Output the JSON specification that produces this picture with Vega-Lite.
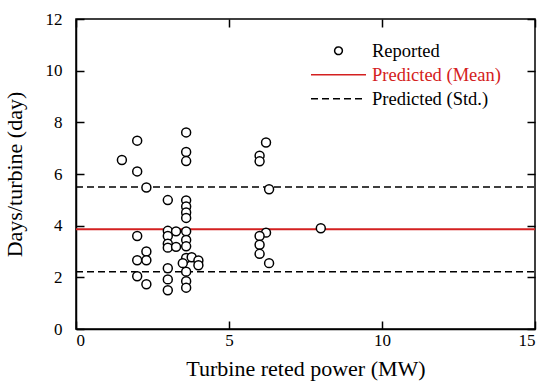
{
  "$schema": "https://vega.github.io/schema/vega-lite/v6.json",
  "autosize": {"type": "none"},
  "width": 459,
  "height": 310,
  "padding": {"left": 76, "top": 19, "right": 8, "bottom": 57},
  "background": "white",
  "config": {
    "font": "Liberation Serif",
    "view": {"stroke": "black", "strokeWidth": 1.5},
    "axis": {
      "grid": false,
      "domainColor": "black",
      "domainWidth": 1.5,
      "tickColor": "black",
      "tickWidth": 1.5,
      "labelColor": "black",
      "titleColor": "black",
      "labelFont": "Liberation Serif",
      "titleFont": "Liberation Serif",
      "labelFontSize": 17,
      "titleFontSize": 22,
      "titleFontWeight": "normal"
    }
  },
  "datasets": {
    "reported": [
      {"power": 1.5, "days": 6.54},
      {"power": 2.0, "days": 7.29},
      {"power": 2.0, "days": 6.10},
      {"power": 2.3, "days": 5.48},
      {"power": 2.0, "days": 3.60},
      {"power": 2.3, "days": 3.00},
      {"power": 2.0, "days": 2.66},
      {"power": 2.3, "days": 2.66},
      {"power": 2.0, "days": 2.04},
      {"power": 2.3, "days": 1.73},
      {"power": 3.0, "days": 4.99},
      {"power": 3.0, "days": 3.80},
      {"power": 3.0, "days": 3.60},
      {"power": 3.0, "days": 3.30},
      {"power": 3.0, "days": 3.15},
      {"power": 3.0, "days": 2.35},
      {"power": 3.0, "days": 1.92},
      {"power": 3.0, "days": 1.50},
      {"power": 3.27, "days": 3.78},
      {"power": 3.27, "days": 3.18},
      {"power": 3.6, "days": 7.61},
      {"power": 3.6, "days": 6.85},
      {"power": 3.6, "days": 6.50},
      {"power": 3.6, "days": 4.98},
      {"power": 3.6, "days": 4.74},
      {"power": 3.6, "days": 4.51},
      {"power": 3.6, "days": 4.30},
      {"power": 3.6, "days": 3.78},
      {"power": 3.6, "days": 3.45},
      {"power": 3.6, "days": 3.20},
      {"power": 3.6, "days": 2.75},
      {"power": 3.6, "days": 2.22},
      {"power": 3.6, "days": 1.85},
      {"power": 3.6, "days": 1.60},
      {"power": 3.49, "days": 2.55},
      {"power": 3.78, "days": 2.78},
      {"power": 4.0, "days": 2.65},
      {"power": 4.0, "days": 2.47},
      {"power": 6.0, "days": 6.71},
      {"power": 6.0, "days": 6.49},
      {"power": 6.21, "days": 7.22},
      {"power": 6.31, "days": 5.41},
      {"power": 6.21, "days": 3.73},
      {"power": 6.0, "days": 3.60},
      {"power": 6.0, "days": 3.26},
      {"power": 6.0, "days": 2.91},
      {"power": 6.31, "days": 2.55},
      {"power": 8.0, "days": 3.90}
    ],
    "predicted": [
      {"series": "Predicted (Mean)", "days": 3.86},
      {"series": "Predicted (Std.)", "days": 5.50},
      {"series": "Predicted (Std.)", "days": 2.22}
    ]
  },
  "layer": [
    {
      "data": {"name": "predicted"},
      "mark": {"type": "rule"},
      "encoding": {
        "x": {"datum": 0, "type": "quantitative",
              "scale": {"domain": [0, 15], "nice": false},
              "axis": {"orient": "top", "labels": false, "title": null, "values": [0, 5, 10, 15], "tickSize": -8, "domain": false}},
        "x2": {"datum": 15},
        "y": {"field": "days", "type": "quantitative",
              "scale": {"domain": [0, 12], "nice": false},
              "axis": {"orient": "right", "labels": false, "title": null, "values": [0, 2, 4, 6, 8, 10, 12], "tickSize": -8, "domain": false}},
        "color": {"field": "series", "type": "nominal",
                  "scale": {"domain": ["Reported", "Predicted (Mean)", "Predicted (Std.)"], "range": ["black", "#d42020", "black"]},
                  "legend": {
                    "title": null,
                    "orient": "none",
                    "legendX": 234,
                    "legendY": 20,
                    "columns": 1,
                    "padding": 0,
                    "symbolSize": 3025,
                    "symbolStrokeWidth": 1.5,
                    "clipHeight": 23.5,
                    "rowPadding": 0,
                    "labelOffset": 5,
                    "labelFont": "Liberation Serif",
                    "labelFontSize": 18.5,
                    "labelLimit": 300,
                    "labelColor": "black",
                    "encode": {
                      "symbols": {"update": {
                        "shape": {"signal": "datum.value === 'Reported' ? 'M0.14,0A0.14,0.14,0,1,1,-0.14,0A0.14,0.14,0,1,1,0.14,0Z' : 'stroke'"},
                        "stroke": {"signal": "datum.value === 'Predicted (Mean)' ? '#d42020' : 'black'"},
                        "fill": {"signal": "datum.value === 'Reported' ? 'white' : 'transparent'"},
                        "strokeDash": {"signal": "datum.value === 'Predicted (Std.)' ? [7, 4] : [1, 0]"},
                        "opacity": {"value": 1}
                      }},
                      "labels": {"update": {
                        "fill": {"signal": "datum.value === 'Predicted (Mean)' ? '#d42020' : 'black'"}
                      }}
                    }
                  }},
        "strokeDash": {"field": "series", "type": "nominal",
                       "scale": {"domain": ["Predicted (Mean)", "Predicted (Std.)"], "range": [[1, 0], [7, 4]]},
                       "legend": null},
        "strokeWidth": {"field": "series", "type": "nominal",
                        "scale": {"domain": ["Predicted (Mean)", "Predicted (Std.)"], "range": [2, 1.5]},
                        "legend": null}
      }
    },
    {
      "data": {"name": "reported"},
      "transform": [{"calculate": "'Reported'", "as": "series"}],
      "mark": {"type": "point", "shape": "circle", "filled": false, "fill": "white", "size": 80, "strokeWidth": 1.5, "opacity": 1},
      "encoding": {
        "x": {"field": "power", "type": "quantitative",
              "scale": {"domain": [0, 15], "nice": false},
              "axis": {"orient": "bottom", "title": "Turbine reted power (MW)", "values": [0, 5, 10, 15], "tickSize": -8, "labelPadding": 11, "titlePadding": 10,
                       "labelFont": "Liberation Serif", "labelColor": "black", "labelFontSize": 17}},
        "y": {"field": "days", "type": "quantitative",
              "scale": {"domain": [0, 12], "nice": false},
              "axis": {"orient": "left", "title": "Days/turbine (day)", "values": [0, 2, 4, 6, 8, 10, 12], "tickSize": -8, "labelPadding": 22, "titlePadding": 19,
                       "labelFont": "Liberation Serif", "labelColor": "black", "labelFontSize": 17}},
        "color": {"field": "series", "type": "nominal",
                  "scale": {"domain": ["Reported", "Predicted (Mean)", "Predicted (Std.)"], "range": ["black", "#d42020", "black"]}}
      }
    }
  ],
  "resolve": {"axis": {"x": "independent", "y": "independent"}}
}
